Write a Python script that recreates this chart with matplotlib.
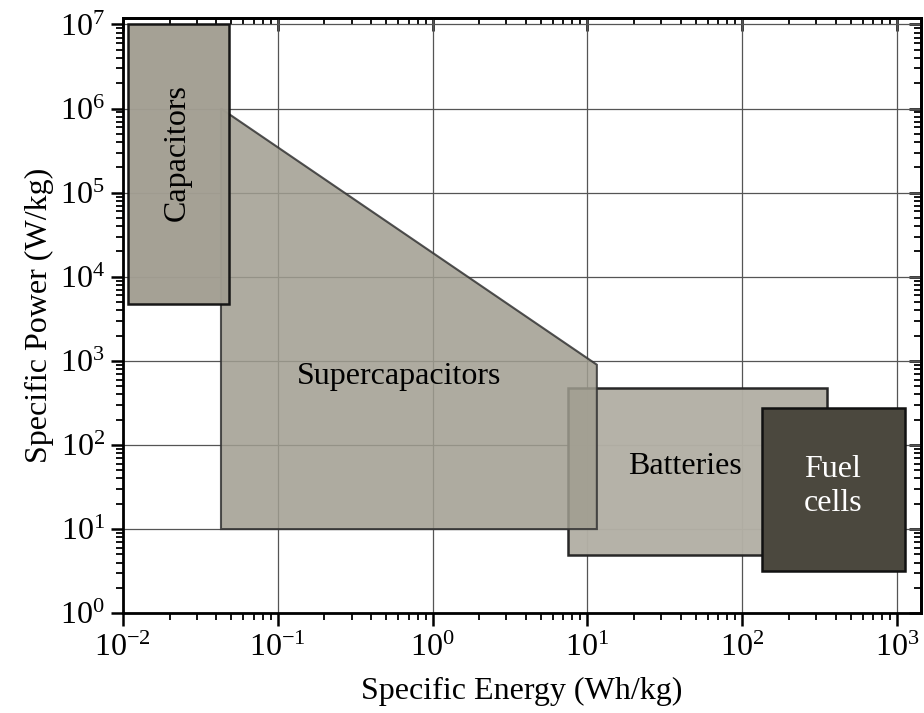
import numpy as np
import matplotlib.pyplot as plt
from matplotlib.patches import Polygon
from matplotlib.ticker import LogLocator

plt.rcParams['font.family'] = ['Liberation Serif', 'DejaVu Serif']
plt.rcParams['mathtext.fontset'] = 'custom'
plt.rcParams['mathtext.rm'] = 'Liberation Serif'

# regions (specific energy Wh/kg, specific power W/kg)
cap_x = [0.0108, 0.0485]
cap_y = [4.8e3, 1.0e7]

sc_x = [0.043, 0.043, 11.5, 11.5, 7.5, 7.5]
sc_y = [10, 1.0e6, 900, 10, 10, 10]

bat_x = [7.5, 350]
bat_y = [4.9, 470]

fc_x = [134, 1120]
fc_y = [3.2, 275]

labels = ['Capacitors', 'Supercapacitors', 'Batteries', 'Fuel\ncells']

def rect(xs, ys):
    return [(xs[0], ys[0]), (xs[1], ys[0]), (xs[1], ys[1]), (xs[0], ys[1])]

fig, ax = plt.subplots(figsize=(9.24, 7.13), dpi=100)
fig.subplots_adjust(left=0.133, right=0.997, top=0.975, bottom=0.14)

ax.set_xscale('log')
ax.set_yscale('log')
ax.set_xlim(1e-2, 1430)
ax.set_ylim(1, 1.2e7)

ax.grid(True, which='major', color='#555555', lw=0.9, zorder=0)
ax.set_axisbelow(True)

ax.add_patch(Polygon(rect(bat_x, bat_y), closed=True, fc='#b3b0a5', ec='#222222',
                     lw=1.8, alpha=0.97, zorder=2))
ax.add_patch(Polygon(list(zip(sc_x, sc_y)), closed=True, fc='#a09d90', ec='#333333',
                     lw=1.5, alpha=0.85, zorder=3))
ax.add_patch(Polygon(rect(cap_x, cap_y), closed=True, fc='#a29e92', ec='#111111',
                     lw=1.8, alpha=0.97, zorder=4))
ax.add_patch(Polygon(rect(fc_x, fc_y), closed=True, fc='#4b483e', ec='#111111',
                     lw=1.8, zorder=5))

ax.text(0.0223, 3.0e5, labels[0], rotation=90, ha='center', va='center',
        fontsize=23, zorder=6)
ax.text(0.61, 660, labels[1], ha='center', va='center', fontsize=23, zorder=6)
ax.text(42.5, 56, labels[2], ha='center', va='center', fontsize=23, zorder=6)
ax.text(385, 32, labels[3], ha='center', va='center', fontsize=23,
        color='white', linespacing=1.2, zorder=6)

ax.set_xlabel('Specific Energy (Wh/kg)', fontsize=23, labelpad=10)
ax.set_ylabel('Specific Power (W/kg)', fontsize=23, labelpad=4)

ax.set_xticks([1e-2, 1e-1, 1, 10, 100, 1000])
ax.set_yticks([10.0**k for k in range(8)])
ax.xaxis.set_minor_locator(LogLocator(subs=np.arange(2, 10), numticks=20))
ax.yaxis.set_minor_locator(LogLocator(subs=np.arange(2, 10), numticks=20))
ax.tick_params(axis='both', which='major', labelsize=23, width=1.8, length=9)
ax.tick_params(axis='both', which='minor', width=1.3, length=5)
ax.tick_params(axis='x', which='both', direction='out', pad=6)
ax.tick_params(axis='y', which='both', direction='out', pad=4)

# inward ticks on top and right
for side in ('top', 'right'):
    sec = ax.secondary_xaxis('top') if side == 'top' else ax.secondary_yaxis('right')
    axis = sec.xaxis if side == 'top' else sec.yaxis
    axis.set_major_locator(LogLocator(numticks=20))
    axis.set_minor_locator(LogLocator(subs=np.arange(2, 10), numticks=20))
    sec.tick_params(which='major', direction='in', width=1.8, length=9, labelsize=0)
    sec.tick_params(which='minor', direction='in', width=1.3, length=5)
    axis.set_ticklabels([])
    for s in sec.spines.values():
        s.set_linewidth(2)

for s in ax.spines.values():
    s.set_linewidth(2)

fig.savefig('out.png', dpi=100)
